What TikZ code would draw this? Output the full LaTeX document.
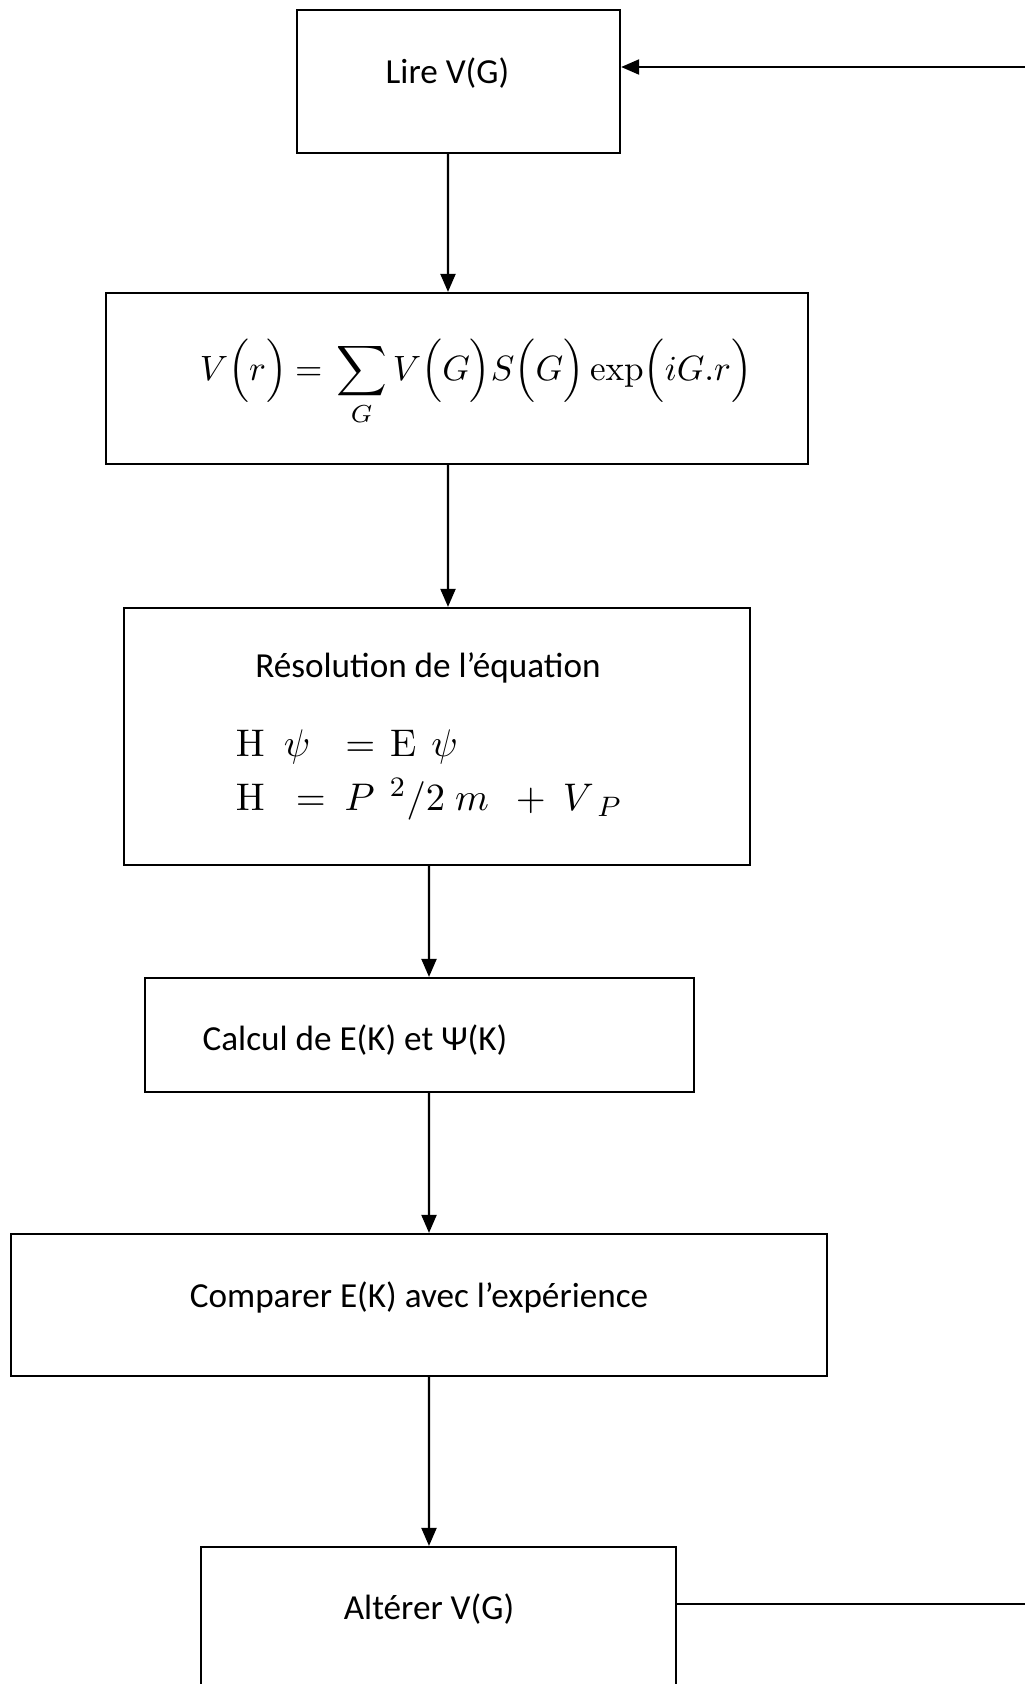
\documentclass[tikz,border=0pt]{standalone}
\usepackage[no-math]{fontspec}
\setmainfont{Carlito}
\usetikzlibrary{arrows.meta}

\begin{document}
\begin{tikzpicture}[x=0.01cm,y=-0.01cm]
\tikzset{
  etape/.style={shape=rectangle,draw,line width=0.6pt,inner sep=0pt,font=\fontsize{10}{12}\selectfont},
  fleche/.style={line width=0.6pt,-{Triangle[length=0.18cm,width=0.15cm]}},
}
\clip (0,0) rectangle (1025,1684);
\node[etape,minimum width=3.23cm,minimum height=1.43cm,text height=0.22cm,text depth=0.19cm] (lire) at (458.5,81.5) {Lire V(G)\hspace*{0.22cm}};
\node[etape,minimum width=7.02cm,minimum height=1.71cm,text height=0.5cm,text depth=0.47cm] (pot) at (457,378.5) {\hspace*{0.38cm}\fontsize{10.3}{13}\selectfont$\displaystyle V\Bigl(r\Bigr)\hspace{0.08cm}{=}\hspace{0.08cm}\sum_{G}V\Bigl(G\Bigr)S\Bigl(G\Bigr)\exp\Bigl(iG.r\Bigr)$};
\node[etape,minimum width=6.26cm,minimum height=2.57cm,align=flush left,text width=4.02cm,font=\fontsize{10}{15.3}\selectfont] (resol) at (437,736.5) {\makebox[3.84cm]{Résolution de l’équation}\\[7pt]
  \fontsize{11}{15.3}\selectfont$\mathrm{H}\hspace{0.19cm}\psi\hspace{0.35cm}{=}\hspace{0.15cm}\mathrm{E}\hspace{0.15cm}\psi$\\
  \fontsize{11}{15.3}\selectfont$\mathrm{H}\hspace{0.31cm}{=}\hspace{0.19cm}P^{\hspace{0.15cm}2}/2\hspace{0.1cm}m\hspace{0.27cm}{+}\hspace{0.17cm}V_{\hspace{0.12cm}P}$};
\node[etape,minimum width=5.49cm,minimum height=1.14cm,text height=0.32cm,text depth=0.02cm] (calc) at (419.5,1035) {Calcul de E(K) et Ψ(K)\hspace*{1.29cm}};
\node[etape,minimum width=8.16cm,minimum height=1.42cm,text height=0.22cm,text depth=0.18cm] (comp) at (419,1305) {Comparer E(K) avec l’expérience};
\node[etape,minimum width=4.75cm,minimum height=1.53cm,text height=0.2cm,text depth=0.29cm] (alter) at (438.5,1623.5) {Altérer V(G)\hspace*{0.19cm}};

\draw[fleche] ([xshift=-0.105cm]lire.south) -- ([xshift=-0.09cm]pot.north);
\draw[fleche] ([xshift=-0.09cm]pot.south) -- ([xshift=0.11cm]resol.north);
\draw[fleche] ([xshift=-0.08cm]resol.south) -- ([xshift=0.095cm]calc.north);
\draw[fleche] ([xshift=0.095cm]calc.south) -- ([xshift=0.1cm]comp.north);
\draw[fleche] ([xshift=0.1cm]comp.south) -- ([xshift=-0.095cm]alter.north);

% boucle de retour
\coordinate (retour) at (1030,67);
\coordinate (sortie) at (1030,1604);
\draw[fleche] (retour) -- (retour -| lire.east);
\draw[line width=0.6pt] (alter.east |- sortie) -- (sortie);
\end{tikzpicture}
\end{document}
